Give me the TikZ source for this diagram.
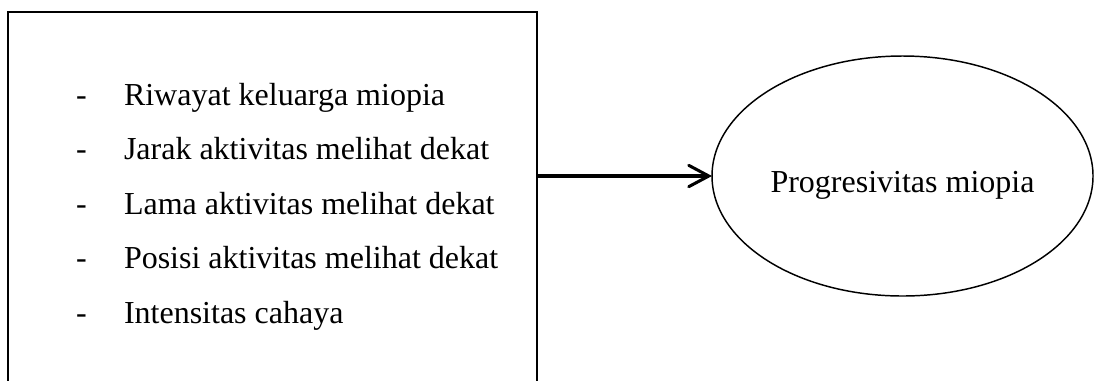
\documentclass[tikz,border=0pt]{standalone}
\usepackage{fontspec}
\setmainfont{Liberation Serif}
\usetikzlibrary{arrows.meta,shapes.geometric}
\begin{document}
\begin{tikzpicture}[x=0.75pt,y=-0.75pt,
  every node/.style={inner sep=0pt, outer sep=0pt, font=\fontsize{24}{28}\selectfont},
  factorbox/.style={draw, line width=1.1pt, rectangle, minimum width=396.75pt, minimum height=291pt},
  outcome/.style={draw, line width=1.1pt, ellipse, minimum width=285.75pt, minimum height=180pt, text height=24pt, text depth=0pt},
  item/.style={anchor=base west},
  link/.style={line width=2.3pt, -{Straight Barb[length=15pt,width=16pt,line width=2.3pt,line cap=round]}}
]
\useasboundingbox (0,0) rectangle (1094,380);
\clip (0,0) rectangle (1094,380);
\node[factorbox] (box) at (272.5,206) {};
\node[outcome] (prog) at (902.5,176) {Progresivitas miopia};
\foreach \y/\t [count=\i] in {105/Riwayat keluarga miopia,159.5/Jarak aktivitas melihat dekat,214/Lama aktivitas melihat dekat,268.5/Posisi aktivitas melihat dekat,323/Intensitas cahaya}{
  \node[item] (d\i) at (76,\y) {-};
  \node[item] (t\i) at (124,\y) {\t};
}
\draw[link] (box.east |- prog.west) -- (prog.west);
\end{tikzpicture}
\end{document}
